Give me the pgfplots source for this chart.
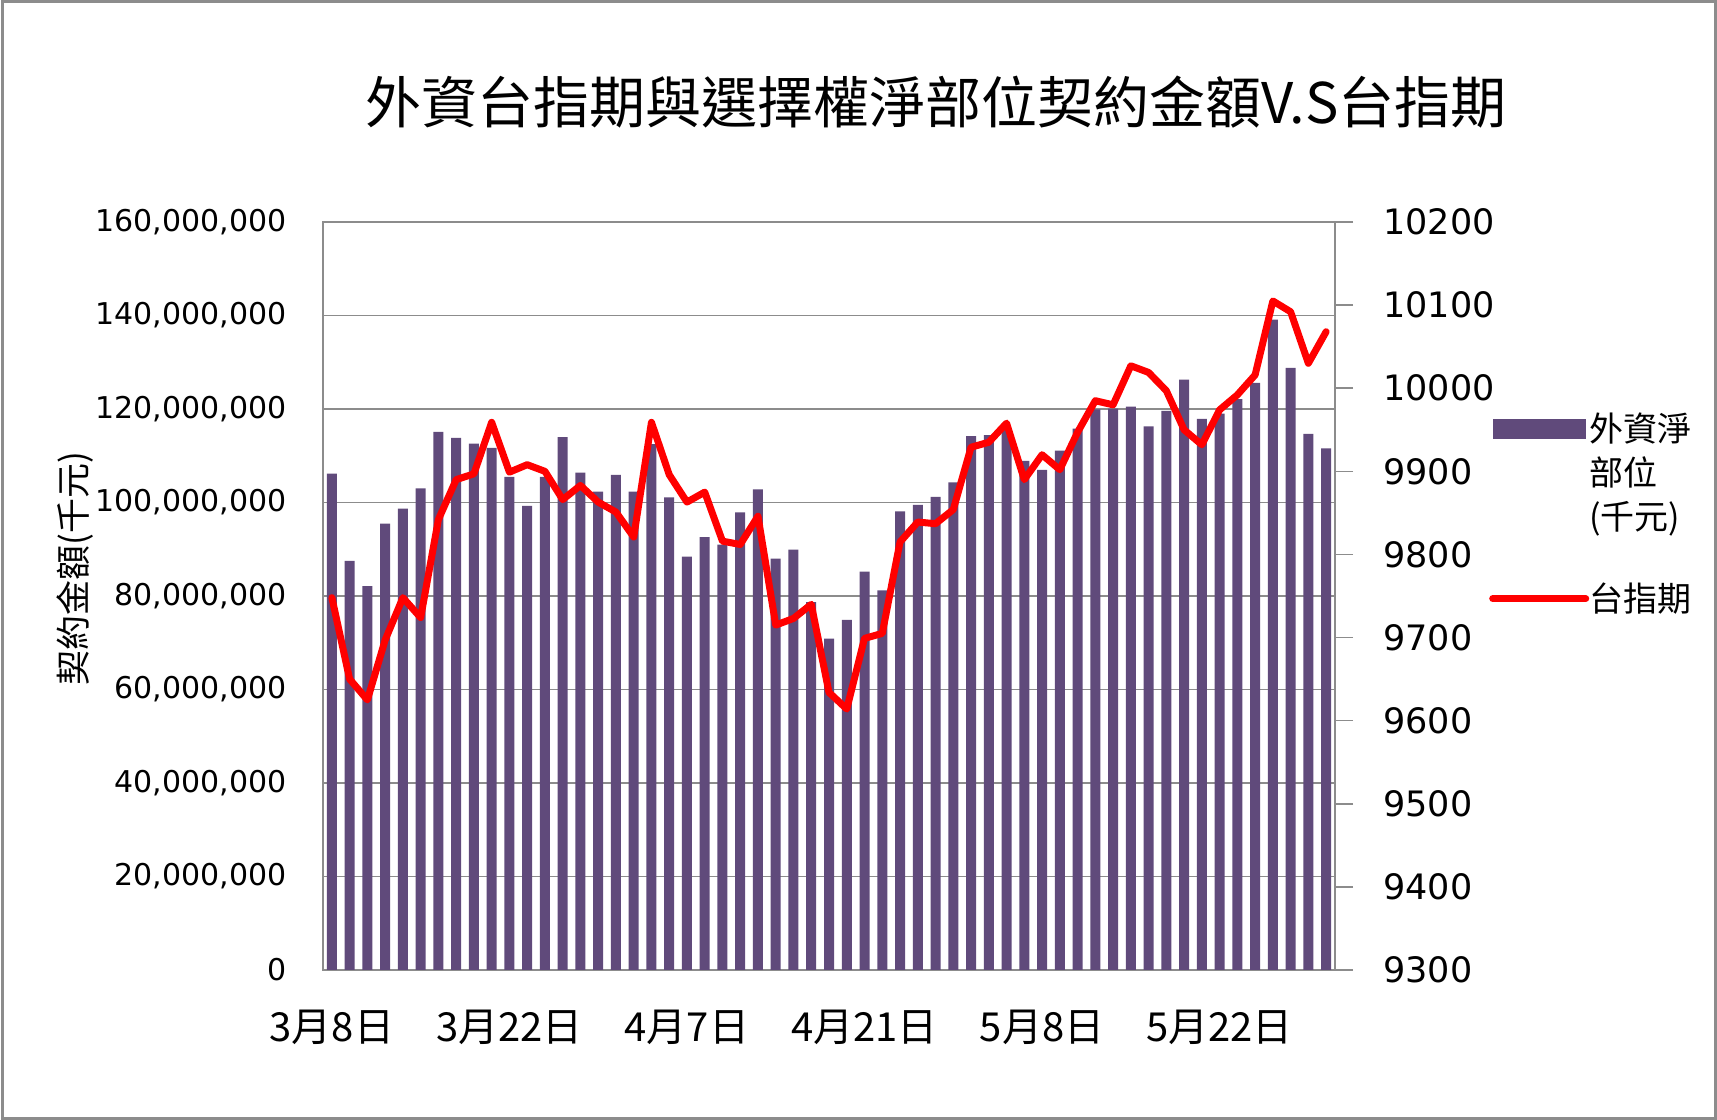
\documentclass[border=0pt]{standalone}
\usepackage{fontspec}
\usepackage{pgfplots}
\usepackage{pgfplotstable}
\pgfplotsset{compat=1.18}
\setmainfont{DejaVu Sans}
\newfontfamily\cjk{Noto Sans CJK TC}
\newfontfamily\num{DejaVu Sans}
\definecolor{barpurple}{HTML}{604A7B}
\definecolor{gridgray}{HTML}{8C8C8C}

\pgfplotstableread{
x bar
1 106200000
2 87500000
3 82100000
4 95500000
5 98700000
6 103000000
7 115100000
8 113800000
9 112600000
10 111700000
11 105500000
12 99300000
13 105500000
14 114000000
15 106400000
16 102300000
17 105900000
18 102300000
19 112500000
20 101100000
21 88400000
22 92600000
23 91000000
24 97900000
25 102800000
26 88000000
27 89900000
28 78700000
29 70900000
30 74900000
31 85200000
32 81200000
33 98100000
34 99500000
35 101200000
36 104300000
37 114200000
38 114400000
39 115500000
40 108900000
41 107000000
42 111100000
43 115800000
44 119900000
45 120100000
46 120500000
47 116300000
48 119600000
49 126300000
50 117900000
51 119000000
52 122100000
53 125600000
54 139100000
55 128800000
56 114700000
57 111600000
}\bartable

\pgfplotstableread{
x idx
1 9748
2 9650
3 9625
4 9697
5 9748
6 9724
7 9842
8 9890
9 9897
10 9959
11 9899
12 9908
13 9900
14 9866
15 9883
16 9863
17 9851
18 9821
19 9959
20 9896
21 9863
22 9875
23 9816
24 9812
25 9846
26 9715
27 9723
28 9740
29 9634
30 9614
31 9699
32 9705
33 9815
34 9839
35 9837
36 9854
37 9929
38 9935
39 9958
40 9890
41 9920
42 9902
43 9947
44 9985
45 9980
46 10027
47 10019
48 9997
49 9950
50 9932
51 9974
52 9992
53 10016
54 10105
55 10092
56 10030
57 10068
}\linetable

\pgfplotsset{
  barlegend/.style={legend image code/.code={\fill[barpurple] (0bp,17bp) rectangle (46.5bp,27bp);}},
  linelegend/.style={legend image code/.code={\draw[red, line width=3.5bp, line cap=round] (0bp,0bp) -- (46.5bp,0bp);}},
}

\begin{document}
\begin{tikzpicture}
\useasboundingbox (0,0) rectangle (858.5bp,560bp);
\draw[color=gridgray, line width=1.5bp] (1bp,1bp) rectangle (857.5bp,559bp);
\node[font=\cjk\fontsize{28bp}{30bp}\selectfont, anchor=center, inner sep=0pt] at (468bp,509bp) {外資台指期與選擇權淨部位契約金額V.S台指期};
\node[font=\cjk\fontsize{17.5bp}{20bp}\selectfont, rotate=90, anchor=center, inner sep=0pt] at (37.5bp,275.5bp) {契約金額(千元)};

\begin{axis}[
  at={(161.5bp,75bp)}, anchor=south west, scale only axis,
  width=506bp, height=374bp,
  xmin=0.5, xmax=57.5, ymin=0, ymax=160000000,
  scaled y ticks=false, scaled x ticks=false,
  axis line style={draw=gridgray, line width=0.75bp, -},
  ytick={0,20000000,40000000,60000000,80000000,100000000,120000000,140000000,160000000},
  yticklabels={0,{20,000,000},{40,000,000},{60,000,000},{80,000,000},{100,000,000},{120,000,000},{140,000,000},{160,000,000}},
  ymajorgrids, grid style={draw=gridgray, line width=0.75bp},
  xtick={1,11,21,31,41,51},
  xticklabels={3月8日,3月22日,4月7日,4月21日,5月8日,5月22日},
  major tick length=0pt,
  yticklabel style={font=\num\fontsize{15bp}{18bp}\selectfont, inner sep=0pt, xshift=-18bp, text=black},
  xticklabel style={font=\cjk\fontsize{20bp}{24bp}\selectfont, inner sep=0pt, yshift=-20bp, text=black},
  legend style={at={(1.152,0.745)}, anchor=north west, draw=none, fill=none,
    inner sep=0pt, column sep=0bp, row sep=25bp,
    font=\cjk\fontsize{17bp}{22bp}\selectfont,
    cells={align=left}, nodes={inner sep=0pt}},
]
\addplot[ybar, bar width=5bp, fill=barpurple, draw=none, barlegend]
  table[x=x,y=bar]{\bartable};
\addlegendentry{外資淨\\部位\\(千元)}
\addlegendimage{linelegend}
\addlegendentry{台指期}
\end{axis}

\begin{axis}[
  at={(161.5bp,75bp)}, anchor=south west, scale only axis,
  width=506bp, height=374bp,
  xmin=0.5, xmax=57.5, ymin=9300, ymax=10200,
  scaled y ticks=false,
  axis x line=none, axis y line*=right,
  axis line style={draw=gridgray, line width=0.75bp, -},
  ytick={9300,9400,9500,9600,9700,9800,9900,10000,10100,10200},
  yticklabels={9300,9400,9500,9600,9700,9800,9900,10000,10100,10200},
  tick align=outside, major tick length=9bp,
  ytick style={draw=gridgray, line width=0.75bp},
  yticklabel style={font=\num\fontsize{17.5bp}{20bp}\selectfont, inner sep=0pt, xshift=15bp, text=black},
]
\addplot[red, line width=3.5bp, line join=round, line cap=round] table[x=x,y=idx]{\linetable};
\end{axis}
\end{tikzpicture}
\end{document}
